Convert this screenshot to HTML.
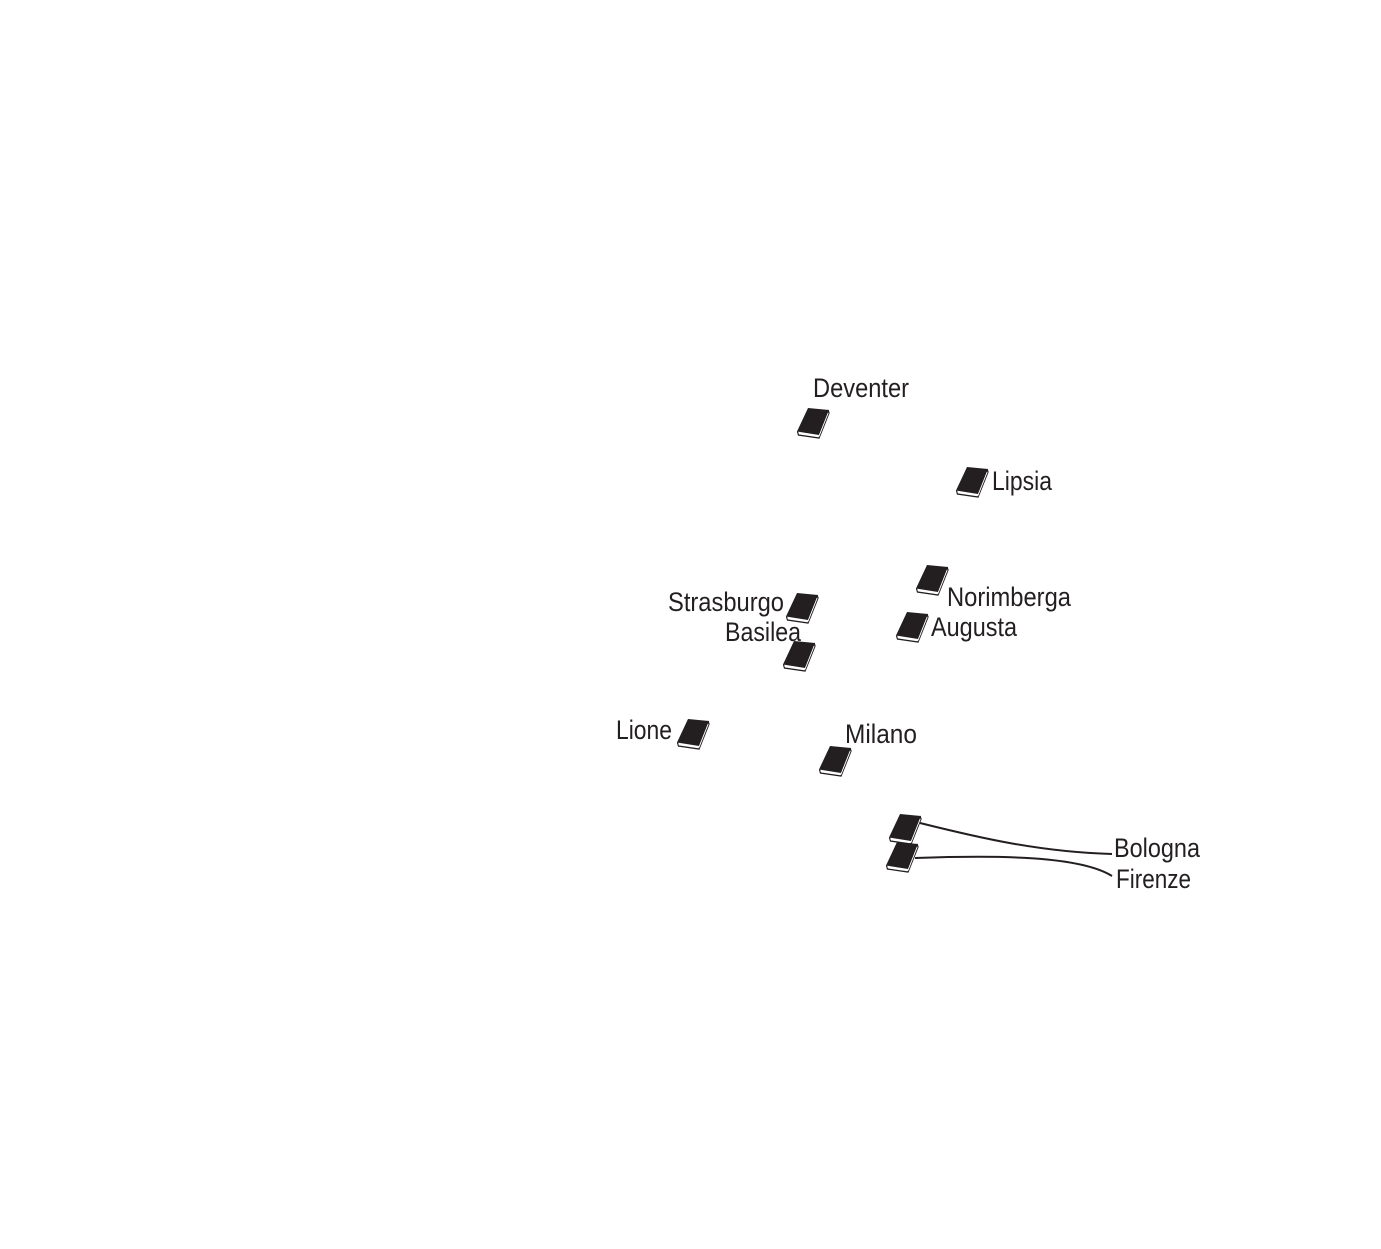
<!DOCTYPE html>
<html><head><meta charset="utf-8"><style>
html,body{margin:0;padding:0;background:#fff;}
svg{display:block;}
text{font-family:"Liberation Sans Narrow","Liberation Sans",sans-serif;font-size:27px;fill:#231f20;}
</style></head><body>
<svg width="1381" height="1249" viewBox="0 0 1381 1249" xmlns="http://www.w3.org/2000/svg">
<defs>
<g id="bk">
<path d="M0.5,23.5 L1.5,27 L22,30 L32,5 L31,2" fill="none" stroke="#231f20" stroke-width="1.3"/>
<path d="M11,0 L32,2 L22,27 L0,23.5 Z" fill="#231f20"/>
<path d="M1.5,25.3 L22,28.3 L31.2,5" fill="none" stroke="#fff" stroke-width="0.9"/>
</g>
</defs>
<use href="#bk" x="797" y="408"/>
<use href="#bk" x="956" y="467"/>
<use href="#bk" x="916" y="565"/>
<use href="#bk" x="786" y="593"/>
<use href="#bk" x="783" y="641"/>
<use href="#bk" x="896" y="612"/>
<use href="#bk" x="677" y="719"/>
<use href="#bk" x="819" y="746"/>
<use href="#bk" x="889" y="814"/>
<use href="#bk" x="886" y="842"/>
<path d="M920,823 C980,838 1040,852 1112,854" fill="none" stroke="#231f20" stroke-width="2"/>
<path d="M915,858 C1000,855 1080,856 1112,876" fill="none" stroke="#231f20" stroke-width="2"/>
<text x="813" y="397" textLength="96" lengthAdjust="spacingAndGlyphs">Deventer</text>
<text x="992" y="490" textLength="60" lengthAdjust="spacingAndGlyphs">Lipsia</text>
<text x="947" y="606" textLength="124" lengthAdjust="spacingAndGlyphs">Norimberga</text>
<text x="668" y="611" textLength="116" lengthAdjust="spacingAndGlyphs">Strasburgo</text>
<text x="725" y="641" textLength="76" lengthAdjust="spacingAndGlyphs">Basilea</text>
<text x="931" y="636" textLength="86" lengthAdjust="spacingAndGlyphs">Augusta</text>
<text x="616" y="739" textLength="56" lengthAdjust="spacingAndGlyphs">Lione</text>
<text x="845" y="743" textLength="72" lengthAdjust="spacingAndGlyphs">Milano</text>
<text x="1114" y="857" textLength="86" lengthAdjust="spacingAndGlyphs">Bologna</text>
<text x="1116" y="888" textLength="75" lengthAdjust="spacingAndGlyphs">Firenze</text>
</svg>
</body></html>
